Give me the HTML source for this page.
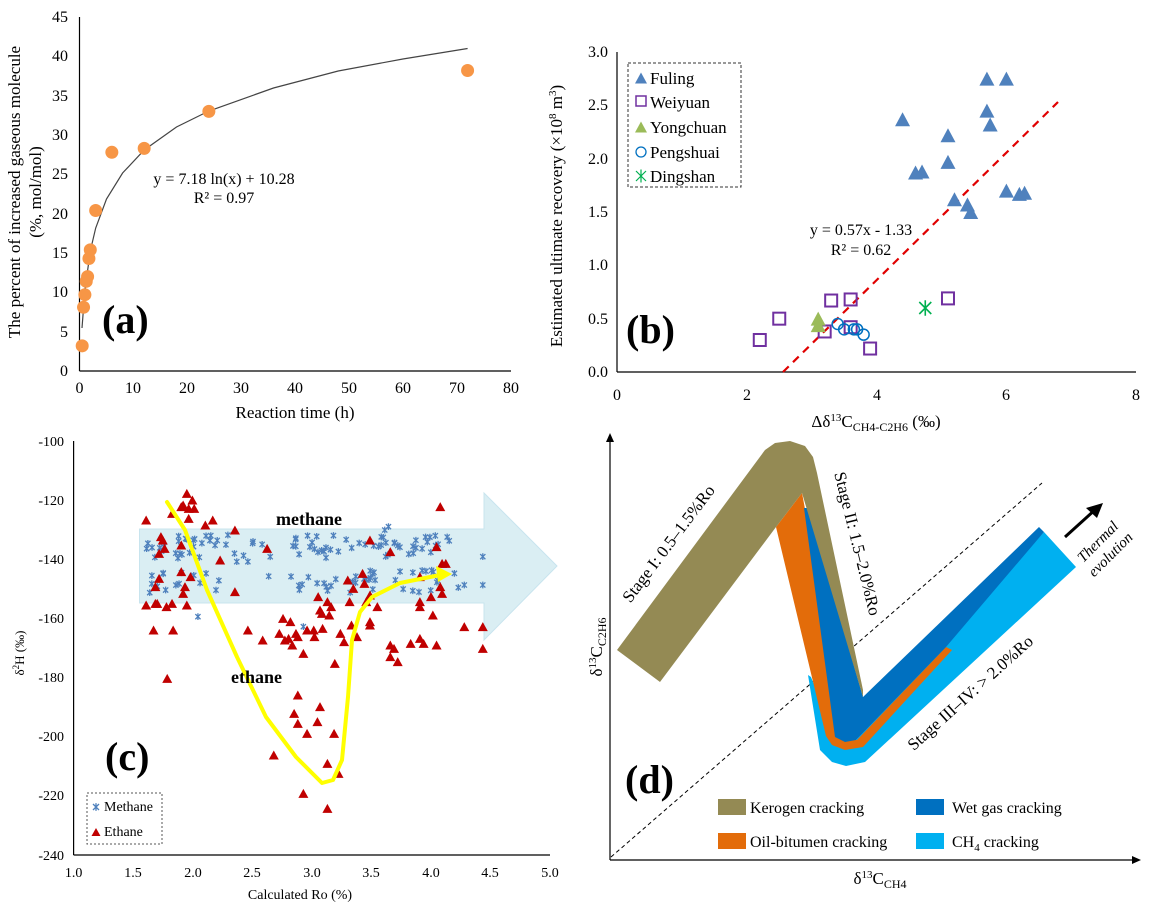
<!DOCTYPE html>
<html><head><meta charset="utf-8"><style>
html,body{margin:0;padding:0;background:#fff;}
svg{display:block;font-family:"Liberation Serif",serif;}
</style></head><body>
<svg id="s" width="1159" height="907" viewBox="0 0 1159 907" xmlns="http://www.w3.org/2000/svg">
<!-- ===== Panel A ===== -->
<g id="pa" stroke="#000" stroke-width="1.2" fill="none">
<line x1="79.5" y1="17" x2="79.5" y2="371"/>
<line x1="79.5" y1="371" x2="511" y2="371"/>
</g>
<g font-size="16" fill="#000" text-anchor="end">
<text x="68" y="376">0</text><text x="68" y="337">5</text><text x="68" y="297">10</text><text x="68" y="258">15</text><text x="68" y="219">20</text><text x="68" y="179">25</text><text x="68" y="140">30</text><text x="68" y="101">35</text><text x="68" y="61">40</text><text x="68" y="22">45</text>
</g>
<g font-size="16" text-anchor="middle">
<text x="79.5" y="393">0</text><text x="133" y="393">10</text><text x="187" y="393">20</text><text x="241" y="393">30</text><text x="295" y="393">40</text><text x="349" y="393">50</text><text x="403" y="393">60</text><text x="457" y="393">70</text><text x="511" y="393">80</text>
<text x="295" y="418" font-size="17">Reaction time (h)</text>
<text transform="translate(20,192) rotate(-90)" font-size="17">The percent of increased gaseous molecule</text>
<text transform="translate(41,192) rotate(-90)" font-size="17">(%, mol/mol)</text>
<text x="224" y="184" font-size="16">y = 7.18 ln(x) + 10.28</text>
<text x="224" y="203" font-size="16">R² = 0.97</text>
</g>
<text x="102" y="333" font-size="40" font-weight="bold">(a)</text>
<polyline fill="none" stroke="#444" stroke-width="1.2" points="82,328 82.7,319 84.9,290 90.3,251 95.7,228 106.5,199 122.6,173 144.2,150 176.5,127 208.9,111 273.5,88 338.2,71 402.9,59 467.6,48.5"/>

<!-- ===== Panel B ===== -->
<g stroke="#000" stroke-width="1.2" fill="none">
<line x1="617" y1="52" x2="617" y2="372"/>
<line x1="617" y1="372" x2="1136" y2="372"/>
</g>
<g font-size="16" text-anchor="end">
<text x="608" y="377">0.0</text><text x="608" y="324">0.5</text><text x="608" y="270">1.0</text><text x="608" y="217">1.5</text><text x="608" y="164">2.0</text><text x="608" y="110">2.5</text><text x="608" y="57">3.0</text>
</g>
<g font-size="16" text-anchor="middle">
<text x="617" y="400">0</text><text x="747" y="400">2</text><text x="877" y="400">4</text><text x="1006" y="400">6</text><text x="1136" y="400">8</text>
<text x="876" y="427" font-size="17">Δδ<tspan font-size="11" dy="-6">13</tspan><tspan dy="6">C</tspan><tspan font-size="12" dy="4">CH4-C2H6</tspan><tspan dy="-4"> (‰)</tspan></text>
<text transform="translate(562,216) rotate(-90)" font-size="17">Estimated ultimate recovery (×10<tspan font-size="11" dy="-6">8</tspan><tspan dy="6"> m</tspan><tspan font-size="11" dy="-6">3</tspan><tspan dy="6">)</tspan></text>
<text x="861" y="235" font-size="16">y = 0.57x - 1.33</text>
<text x="861" y="255" font-size="16">R² = 0.62</text>
</g>
<text x="626" y="343" font-size="40" font-weight="bold">(b)</text>
<line x1="783" y1="372" x2="1058" y2="102" stroke="#E00000" stroke-width="2.2" stroke-dasharray="8,6"/>
<rect x="628" y="63" width="113" height="124" fill="#fff" stroke="#333" stroke-width="1" stroke-dasharray="3,2"/>
<g font-size="17">
<text x="650" y="84">Fuling</text><text x="650" y="108">Weiyuan</text><text x="650" y="133">Yongchuan</text><text x="650" y="158">Pengshuai</text><text x="650" y="182">Dingshan</text>
</g>

<!-- ===== Panel C ===== -->
<g stroke="#000" stroke-width="1.2" fill="none">
<line x1="73.6" y1="441" x2="73.6" y2="855"/>
<line x1="73.6" y1="855" x2="550" y2="855"/>
</g>
<g font-size="14" text-anchor="end">
<text x="64" y="446">-100</text><text x="64" y="505">-120</text><text x="64" y="564">-140</text><text x="64" y="623">-160</text><text x="64" y="682">-180</text><text x="64" y="741">-200</text><text x="64" y="800">-220</text><text x="64" y="860">-240</text>
</g>
<g font-size="14" text-anchor="middle">
<text x="73.6" y="877">1.0</text><text x="133" y="877">1.5</text><text x="193" y="877">2.0</text><text x="252" y="877">2.5</text><text x="312" y="877">3.0</text><text x="371" y="877">3.5</text><text x="431" y="877">4.0</text><text x="490" y="877">4.5</text><text x="550" y="877">5.0</text>
<text x="300" y="899">Calculated Ro (%)</text>
<text transform="translate(24,653) rotate(-90)" font-size="13">δ<tspan font-size="9" dy="-5">2</tspan><tspan dy="5">H (‰)</tspan></text>
</g>
<polygon points="139.5,529 484,529 484,493 557,566 484,640 484,603 139.5,603" fill="#DAEEF3" stroke="#C8E4EE" stroke-width="1"/>
<g id="cm"></g>
<g id="ce"></g>
<polyline fill="none" stroke="#FFFF00" stroke-width="4" stroke-linejoin="round" stroke-linecap="round" points="167,502 185,530 207,590 237,657 266,717 296,757 322,783 333,780 342,760 348,697 352,640 360,612 372,597 400,583 440,575"/>
<polygon points="452,574 436,566 438,582" fill="#FFFF00"/>
<text x="276" y="525" font-size="18" font-weight="bold">methane</text>
<text x="231" y="683" font-size="18" font-weight="bold">ethane</text>
<text x="105" y="770" font-size="40" font-weight="bold">(c)</text>
<rect x="87" y="793" width="75" height="51" fill="#fff" stroke="#555" stroke-width="1" stroke-dasharray="2,2"/>
<g font-size="14"><text x="104" y="811">Methane</text><text x="104" y="836">Ethane</text></g>

<!-- ===== Panel D ===== -->
<g stroke="#000" stroke-width="1.2" fill="none">
<line x1="610" y1="860" x2="610" y2="438"/>
<line x1="610" y1="860" x2="1134" y2="860"/>
</g>
<polygon points="606,442 610,433 614,442" fill="#000"/>
<polygon points="1132,856 1141,860 1132,864" fill="#000"/>
<line x1="611" y1="857" x2="1042" y2="483" stroke="#000" stroke-width="1" stroke-dasharray="4,3"/>
<polygon fill="#00B0F0" points="808,675 811,677 835,737 856,740 1044,532 1076,567 865,762 846,766 832,762 820,750"/>
<polygon fill="#E36C0A" points="776,527 802,493 809,530 839,737 857,740 946,647 952,650 863,747 845,750 832,745 826,736"/>
<polygon fill="#0070C0" points="804,508 808,508 863,697 1039,527 1044,532 946,647 856,740 845,742 835,737"/>
<polygon fill="#948A54" points="617,650 765,450 775,443 790,441 805,446 813,457 817,473 863,690 863,697 802,493 776,527 660,682"/>
<text transform="translate(673,547) rotate(-53)" font-size="17" text-anchor="middle">Stage I: 0.5–1.5%Ro</text>
<text transform="translate(852,545) rotate(76)" font-size="17" text-anchor="middle">Stage II: 1.5–2.0%Ro</text>
<text transform="translate(974,697) rotate(-42)" font-size="17" text-anchor="middle">Stage III–IV: &gt; 2.0%Ro</text>
<g transform="translate(1104,548) rotate(-45)" font-size="15" font-style="italic" text-anchor="middle"><text x="0" y="-4">Thermal</text><text x="0" y="14">evolution</text></g>
<line x1="1065" y1="537" x2="1097" y2="508" stroke="#000" stroke-width="3"/>
<polygon points="1103,503 1086,508 1097,518" fill="#000"/>
<text x="625" y="793" font-size="40" font-weight="bold">(d)</text>
<rect x="718" y="799" width="28" height="16" fill="#948A54"/>
<rect x="718" y="833" width="28" height="16" fill="#E36C0A"/>
<rect x="916" y="799" width="28" height="16" fill="#0070C0"/>
<rect x="916" y="833" width="28" height="16" fill="#00B0F0"/>
<g font-size="16">
<text x="750" y="813">Kerogen cracking</text>
<text x="750" y="847">Oil-bitumen cracking</text>
<text x="952" y="813">Wet gas cracking</text>
<text x="952" y="847">CH<tspan font-size="11" dy="4">4</tspan><tspan dy="-4"> cracking</tspan></text>
</g>
<text x="880" y="884" font-size="17" text-anchor="middle">δ<tspan font-size="11" dy="-6">13</tspan><tspan dy="6">C</tspan><tspan font-size="12" dy="4">CH4</tspan></text>
<text transform="translate(602,647) rotate(-90)" font-size="17" text-anchor="middle">δ<tspan font-size="11" dy="-6">13</tspan><tspan dy="6">C</tspan><tspan font-size="12" dy="4">C2H6</tspan></text>
<g id="dyn"></g>
</svg>
<script>
var NS="http://www.w3.org/2000/svg";
function el(par,tag,at){var e=document.createElementNS(NS,tag);for(var k in at)e.setAttribute(k,at[k]);(typeof par==="string"?document.getElementById(par):par).appendChild(e);return e;}
function tri(p,cx,cy,w,h,f){el(p,"polygon",{points:(cx-w/2)+","+(cy+h/2)+" "+cx+","+(cy-h/2)+" "+(cx+w/2)+","+(cy+h/2),fill:f});}
// Panel A
var A=[[0.5,3.2],[0.75,8.1],[1,9.7],[1.25,11.4],[1.5,12],[1.75,14.3],[2,15.4],[3,20.4],[6,27.8],[12,28.3],[24,33],[72,38.2]];
A.forEach(function(d){el("dyn","circle",{cx:79.5+d[0]*5.39,cy:371-d[1]*7.867,r:6.5,fill:"#F79646"});});
// Panel B
function BX(v){return 617+v*64.9;}function BY(v){return 372-v*106.67;}
[[4.4,2.37],[4.6,1.87],[4.7,1.88],[5.1,2.22],[5.1,1.97],[5.2,1.62],[5.4,1.57],[5.45,1.5],[5.7,2.75],[5.7,2.45],[5.75,2.32],[6,2.75],[6,1.7],[6.2,1.67],[6.28,1.68]].forEach(function(d){tri("dyn",BX(d[0]),BY(d[1]),15,14,"#4F81BD");});
[[2.2,0.3],[2.5,0.5],[3.3,0.67],[3.6,0.68],[3.2,0.38],[3.6,0.42],[3.9,0.22],[5.1,0.69]].forEach(function(d){el("dyn","rect",{x:BX(d[0])-6,y:BY(d[1])-6,width:12,height:12,fill:"none",stroke:"#7030A0","stroke-width":2});});
[[3.1,0.5],[3.1,0.44]].forEach(function(d){tri("dyn",BX(d[0]),BY(d[1]),15,14,"#9BBB59");});
[[3.4,0.45],[3.5,0.4],[3.65,0.4],[3.7,0.4],[3.8,0.35]].forEach(function(d){el("dyn","circle",{cx:BX(d[0]),cy:BY(d[1]),r:5.5,fill:"none",stroke:"#0070C0","stroke-width":1.5});});
function star(p,cx,cy,s,c,w){el(p,"path",{d:"M"+(cx-s)+","+(cy-s)+"L"+(cx+s)+","+(cy+s)+"M"+(cx-s)+","+(cy+s)+"L"+(cx+s)+","+(cy-s)+"M"+cx+","+(cy-s*1.3)+"L"+cx+","+(cy+s*1.3),stroke:c,"stroke-width":w,fill:"none"});}
star("dyn",BX(4.75),BY(0.6),6,"#00B050",1.6);
// legend B
tri("dyn",641,78,12,11,"#4F81BD");
el("dyn","rect",{x:636,y:96,width:10,height:10,fill:"none",stroke:"#7030A0","stroke-width":1.5});
tri("dyn",641,127,12,11,"#9BBB59");
el("dyn","circle",{cx:641,cy:152,r:5,fill:"none",stroke:"#0070C0","stroke-width":1.3});
star("dyn",641,176,5,"#00B050",1.2);
// Panel C ethane
var E=[[395,270],[395,525],[415,600],[420,520],[425,520],[435,320],[440,330],[445,355],[430,370],[430,445],[420,470],[450,530],[465,520],[468,600],[452,745],[465,250],[490,230],[490,345],[490,425],[495,490],[500,470],[505,525],[515,440],[505,190],[495,225],[510,235],[520,210],[525,235],[510,265],[555,285],[575,270],[595,390],[635,300],[635,485],[670,600],[710,630],[722,355],[740,975],[755,610],[765,565],[770,630],[780,625],[785,575],[790,645],[800,610],[805,620],[820,670],[795,850],[805,795],[805,880],[830,600],[830,910],[848,600],[850,620],[860,500],[858,875],[865,830],[865,540],[870,550],[872,595],[885,515],[890,555],[895,530],[885,1000],[885,1135],[820,1090],[905,700],[903,910],[915,1030],[920,610],[930,635],[940,450],[945,515],[950,585],[955,475],[965,620],[980,430],[985,460],[990,515],[1000,330],[1000,495],[1000,575],[1000,585],[1020,530],[1055,365],[1055,645],[1055,680],[1065,655],[1075,695],[1110,640],[1135,440],[1135,515],[1135,530],[1135,625],[1145,640],[1165,500],[1170,555],[1180,350],[1180,645],[1190,230],[1190,470],[1195,400],[1195,490],[1205,400],[1255,590],[1305,590],[1305,655]];
// methane
var seed=7;function rnd(){seed=(seed*9301+49297)%233280;return seed/233280;}
var segs=[[395,590,40],[590,780,10],[780,1010,45],[1010,1240,45]];
segs.forEach(function(s){for(var i=0;i<s[2];i++){var x=s[0]+rnd()*(s[1]-s[0]);var y=(rnd()<0.5?350:455)+(rnd()-0.5)*70;star("cm",x/2.703,430+y/3,2.6,"#4F81BD",1.3);}});
[[1305,380],[1305,465],[1255,465],[535,560],[820,590],[640,395],[1050,290],[1040,300],[670,395]].forEach(function(d){star("cm",d[0]/2.703,430+d[1]/3,2.6,"#4F81BD",1.3);});
E.forEach(function(d){tri("ce",d[0]/2.703,430+d[1]/3,10,9,"#C00000");});
star("dyn",96,807,3,"#4F81BD",1.3);
tri("dyn",96,832,9,8,"#C00000");
</script>
</body></html>
